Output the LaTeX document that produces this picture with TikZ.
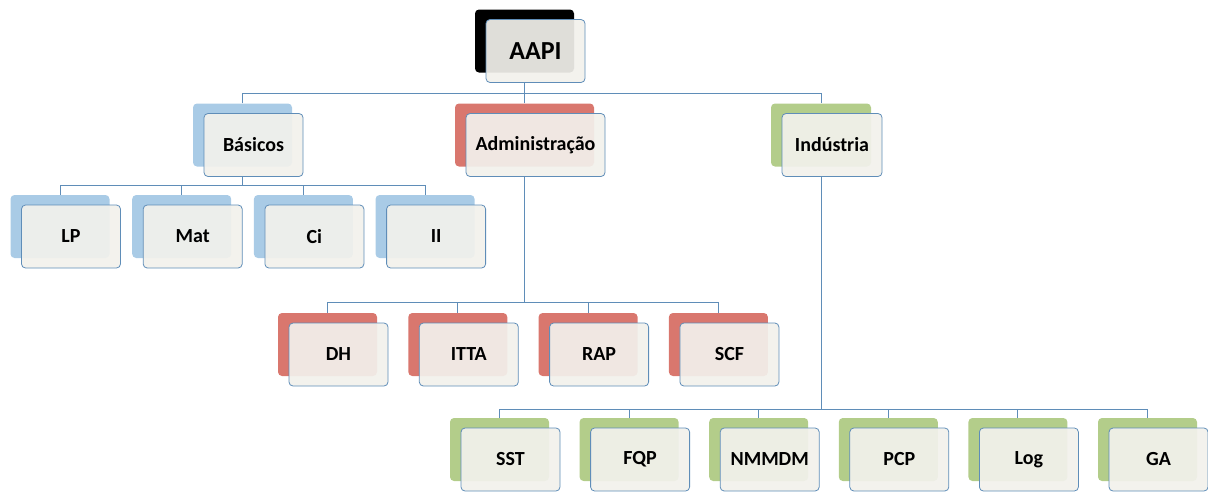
\documentclass[tikz,border=0pt]{standalone}
\usepackage{fontspec}
\setmainfont{Carlito}
\usetikzlibrary{positioning}

\definecolor{linkblue}{HTML}{5F8DB8}
\definecolor{basblue}{HTML}{A9CBE6}
\definecolor{admred}{HTML}{D9776E}
\definecolor{indgreen}{HTML}{B3CD8A}
\definecolor{cardfill}{HTML}{F2F1EC}

\begin{document}
\begin{tikzpicture}[
    x=1pt, y=-1pt,
    on grid,
    font=\fontsize{20}{22}\selectfont\bfseries,
    every node/.style={rounded corners=4pt, minimum width=99pt, minimum height=63pt, inner sep=0pt},
    backcard/.style={fill=#1, draw=none},
    card/.style={fill=cardfill, fill opacity=0.92, text opacity=1, draw=linkblue, line width=0.8pt, text=black},
    link/.style={draw=linkblue, line width=0.9pt}
]
   \useasboundingbox (0,0) rectangle (1208,491);

   % bus levels
   \coordinate (bus0) at (0,93);
   \coordinate (bus1) at (0,185);
   \coordinate (bus2) at (0,302);
   \coordinate (bus3) at (0,409);

   % top
   \node[backcard=black] (aapi-sh) at (524.5,41) {};
   \node[card, font=\fontsize{26}{28}\selectfont\bfseries] (aapi) [below right=10pt and 11pt of aapi-sh] {AAPI};

   % areas
   \node[backcard=basblue] (bas-sh) at (242.5,135) {};
   \node[card] (bas) [below right=10pt and 11pt of bas-sh] {Básicos};
   \node[backcard=admred, minimum width=139pt] (adm-sh) at (524.5,135) {};
   \node[card, minimum width=139pt] (adm) [below right=10pt and 11pt of adm-sh] {Administração};
   \node[backcard=indgreen, minimum width=100pt] (ind-sh) at (821,135) {};
   \node[card, minimum width=100pt] (ind) [below right=10pt and 11pt of ind-sh] {Indústria};

   % Básicos
   \node[backcard=basblue] (lp-sh) at (60,226.5) {};
   \node[backcard=basblue] (mat-sh) [right=121.7pt of lp-sh] {};
   \node[backcard=basblue] (ci-sh) [right=121.7pt of mat-sh] {};
   \node[backcard=basblue] (ii-sh) [right=121.7pt of ci-sh] {};
   \node[card] (lp) [below right=10pt and 11pt of lp-sh] {LP};
   \node[card] (mat) [below right=10pt and 11pt of mat-sh] {Mat};
   \node[card] (ci) [below right=10pt and 11pt of ci-sh] {Ci};
   \node[card] (ii) [below right=10pt and 11pt of ii-sh] {II};

   % Administração
   \node[backcard=admred] (dh-sh) at (327.5,344.5) {};
   \node[backcard=admred] (itta-sh) [right=130.3pt of dh-sh] {};
   \node[backcard=admred] (rap-sh) [right=130.3pt of itta-sh] {};
   \node[backcard=admred] (scf-sh) [right=130.3pt of rap-sh] {};
   \node[card] (dh) [below right=10pt and 11pt of dh-sh] {DH};
   \node[card] (itta) [below right=10pt and 11pt of itta-sh] {ITTA};
   \node[card] (rap) [below right=10pt and 11pt of rap-sh] {RAP};
   \node[card] (scf) [below right=10pt and 11pt of scf-sh] {SCF};

   % Indústria
   \node[backcard=indgreen] (sst-sh) at (499.5,449.5) {};
   \node[backcard=indgreen] (fqp-sh) [right=129.6pt of sst-sh] {};
   \node[backcard=indgreen] (nmmdm-sh) [right=129.6pt of fqp-sh] {};
   \node[backcard=indgreen] (pcp-sh) [right=129.6pt of nmmdm-sh] {};
   \node[backcard=indgreen] (log-sh) [right=129.6pt of pcp-sh] {};
   \node[backcard=indgreen] (ga-sh) [right=129.6pt of log-sh] {};
   \node[card] (sst) [below right=10pt and 11pt of sst-sh] {SST};
   \node[card] (fqp) [below right=10pt and 11pt of fqp-sh] {FQP};
   \node[card] (nmmdm) [below right=10pt and 11pt of nmmdm-sh] {NMMDM};
   \node[card] (pcp) [below right=10pt and 11pt of pcp-sh] {PCP};
   \node[card] (log) [below right=10pt and 11pt of log-sh] {Log};
   \node[card] (ga) [below right=10pt and 11pt of ga-sh] {GA};

   % connectors
   \draw[link] (aapi-sh |- aapi.south) -- (aapi-sh |- bus0);
   \draw[link] (bas-sh.north) |- (ind-sh |- bus0) -- (ind-sh.north);
   \draw[link] (adm-sh.north) -- (adm-sh |- bus0);

   \draw[link] (bas-sh |- bas.south) -- (bas-sh |- bus1);
   \draw[link] (lp-sh.north) |- (ii-sh |- bus1) -- (ii-sh.north);
   \draw[link] (mat-sh.north) -- (mat-sh |- bus1);
   \draw[link] (ci-sh.north) -- (ci-sh |- bus1);

   \draw[link] (adm-sh |- adm.south) -- (adm-sh |- bus2);
   \draw[link] (dh-sh.north) |- (scf-sh |- bus2) -- (scf-sh.north);
   \draw[link] (itta-sh.north) -- (itta-sh |- bus2);
   \draw[link] (rap-sh.north) -- (rap-sh |- bus2);

   \draw[link] (ind-sh |- ind.south) -- (ind-sh |- bus3);
   \draw[link] (sst-sh.north) |- (ga-sh |- bus3) -- (ga-sh.north);
   \draw[link] (fqp-sh.north) -- (fqp-sh |- bus3);
   \draw[link] (nmmdm-sh.north) -- (nmmdm-sh |- bus3);
   \draw[link] (pcp-sh.north) -- (pcp-sh |- bus3);
   \draw[link] (log-sh.north) -- (log-sh |- bus3);
\end{tikzpicture}
\end{document}
